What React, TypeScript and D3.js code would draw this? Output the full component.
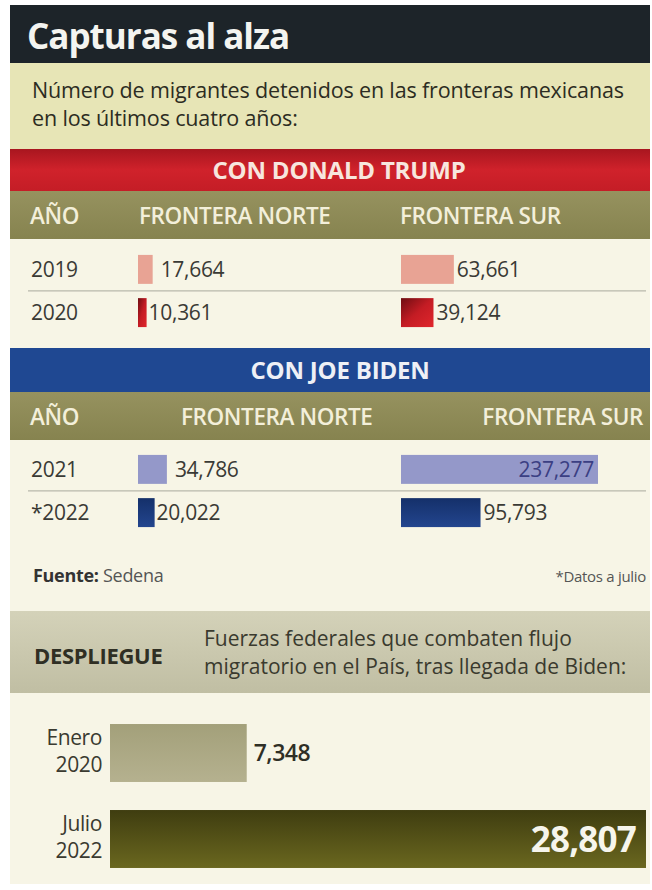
import { useEffect } from 'react';
import * as d3 from 'd3';

const trumpYears = ['2019', '2020'];
const trumpNorte = [17664, 10361];
const trumpSur = [63661, 39124];
const bidenYears = ['2021', '*2022'];
const bidenNorte = [34786, 20022];
const bidenSur = [237277, 95793];
const despliegueLabels = [['Enero', '2020'], ['Julio', '2022']];
const despliegueValues = [7348, 28807];

const FONT = '"Open Sans", "Noto Sans", sans-serif';
const fmt = d3.format(',');

export default function App() {
  useEffect(() => {
    document.body.style.margin = '0';
  }, []);

  const W = 652;
  const L = 10;
  const R = 650;

  // one scale for both border tables
  const x = d3.scaleLinear().domain([0, d3.max(bidenSur) as number]).range([0, 197]);
  const xd = d3.scaleLinear().domain([0, d3.max(despliegueValues) as number]).range([0, 536]);

  const trumpY = d3.scaleBand().domain(trumpYears).range([248, 334]).paddingInner(0.33).paddingOuter(0.16);
  const bidenY = d3.scaleBand().domain(bidenYears).range([448, 534]).paddingInner(0.33).paddingOuter(0.16);
  const despY = d3.scaleBand().domain(despliegueLabels.map((d) => d[1])).range([710, 882]).paddingInner(0.326).paddingOuter(0.163);

  const normX = 138;
  const surX = 401;

  const trumpColors = ['#e8a394', 'url(#gRed)'];
  const bidenColors = ['#9498c9', 'url(#gBlue)'];

  const headerRow = (y: number, biden: boolean) => (
    <g fontSize={22.5} fill="#f3efda" fontFamily={FONT} fontWeight={600} letterSpacing={-0.4}>
      <rect x={L} y={y} width={R - L} height={48} fill="url(#gOlive)" />
      <text x={30} y={y + 33}>AÑO</text>
      <text x={biden ? 181 : 139} y={y + 33}>FRONTERA NORTE</text>
      <text x={biden ? 643 : 400} y={y + 33} textAnchor={biden ? 'end' : 'start'}>FRONTERA SUR</text>
    </g>
  );

  const rows = (
    years: string[],
    norte: number[],
    sur: number[],
    y: d3.ScaleBand<string>,
    colors: string[],
    insideTextColor: string
  ) => (
    <g fontFamily={FONT} fontSize={21} fill="#3a3a35" letterSpacing={-0.3}>
      {years.map((yr, i) => {
        const y0 = y(yr) as number;
        const bh = y.bandwidth();
        const cy = y0 + bh / 2 + 7.5;
        const nw = x(norte[i]);
        const sw = x(sur[i]);
        const inside = sw > 150;
        return (
          <g key={yr}>
            <text x={31} y={cy}>{yr}</text>
            <rect x={normX} y={y0} width={nw} height={bh} fill={colors[i]} />
            <text x={normX + nw + (i === 0 ? 8 : 2)} y={cy}>{fmt(norte[i])}</text>
            <rect x={surX} y={y0} width={sw} height={bh} fill={colors[i]} />
            {inside ? (
              <text x={surX + sw - 4} y={cy} textAnchor="end" fill={insideTextColor}>{fmt(sur[i])}</text>
            ) : (
              <text x={surX + sw + 3} y={cy}>{fmt(sur[i])}</text>
            )}
          </g>
        );
      })}
      <line x1={28} x2={R - 4} y1={(y(years[0]) as number) + y.step() * 0.83} y2={(y(years[0]) as number) + y.step() * 0.83} stroke="#b9b8ab" strokeWidth={1.2} />
    </g>
  );

  return (
    <svg width={W} height={890} style={{ display: 'block', background: '#fff' }}>
      <defs>
        <linearGradient id="gRedBand" x1="0" y1="0" x2="0" y2="1">
          <stop offset="0" stopColor="#a8161f" />
          <stop offset="0.5" stopColor="#d0222b" />
          <stop offset="1" stopColor="#c41d26" />
        </linearGradient>
        <linearGradient id="gOlive" x1="0" y1="0" x2="0" y2="1">
          <stop offset="0" stopColor="#96925f" />
          <stop offset="1" stopColor="#86834f" />
        </linearGradient>
        <linearGradient id="gRed" x1="0" y1="0" x2="1" y2="1">
          <stop offset="0" stopColor="#6e0d12" />
          <stop offset="0.5" stopColor="#c41c24" />
          <stop offset="1" stopColor="#e0262c" />
        </linearGradient>
        <linearGradient id="gBlue" x1="0" y1="0" x2="0" y2="1">
          <stop offset="0" stopColor="#14306a" />
          <stop offset="1" stopColor="#23458e" />
        </linearGradient>
        <linearGradient id="gGrey" x1="0" y1="0" x2="0" y2="1">
          <stop offset="0" stopColor="#d4d2b9" />
          <stop offset="1" stopColor="#c0bea3" />
        </linearGradient>
        <linearGradient id="gDark" x1="0" y1="0" x2="0" y2="1">
          <stop offset="0" stopColor="#3f3d10" />
          <stop offset="1" stopColor="#6a671f" />
        </linearGradient>
        <linearGradient id="gLight" x1="0" y1="0" x2="0" y2="1">
          <stop offset="0" stopColor="#a3a07a" />
          <stop offset="1" stopColor="#b5b18f" />
        </linearGradient>
      </defs>

      {/* body */}
      <rect x={L} y={5} width={R - L} height={879} fill="#f7f5e6" />

      {/* title */}
      <rect x={L} y={5} width={R - L} height={58} fill="#1d2429" />
      <text x={27} y={49} fontSize={35} fontWeight={700} fill="#f4f4f0" fontFamily={FONT} letterSpacing={-1}>Capturas al alza</text>

      {/* subtitle */}
      <rect x={L} y={63} width={R - L} height={86} fill="#e7e5b6" />
      <g fontFamily={FONT} fontSize={21.5} fill="#2c2c22" fontWeight={500} letterSpacing={-0.15}>
        <text x={32} y={98}>Número de migrantes detenidos en las fronteras mexicanas</text>
        <text x={32} y={126}>en los últimos cuatro años:</text>
      </g>

      {/* Trump */}
      <rect x={L} y={149} width={R - L} height={42} fill="url(#gRedBand)" />
      <text x={339} y={179} textAnchor="middle" fontSize={24} fontWeight={700} fill="#f7e6de" fontFamily={FONT} letterSpacing={-0.2}>CON DONALD TRUMP</text>
      {headerRow(191, false)}
      {rows(trumpYears, trumpNorte, trumpSur, trumpY, trumpColors, '#333')}

      {/* Biden */}
      <rect x={L} y={348} width={R - L} height={44} fill="#1f4892" />
      <text x={340} y={379} textAnchor="middle" fontSize={24} fontWeight={700} fill="#eef0f6" fontFamily={FONT} letterSpacing={-0.2}>CON JOE BIDEN</text>
      {headerRow(392, true)}
      {rows(bidenYears, bidenNorte, bidenSur, bidenY, bidenColors, '#3b3f83')}

      {/* source */}
      <text x={33} y={582} fontSize={18} fill="#555" fontFamily={FONT} letterSpacing={-0.3}>
        <tspan fontWeight={700} fill="#333">Fuente:</tspan> Sedena
      </text>
      <text x={646} y={582} textAnchor="end" fontSize={15} fill="#555" fontFamily={FONT} letterSpacing={-0.3}>*Datos a julio</text>

      {/* despliegue */}
      <rect x={L} y={611} width={R - L} height={82} fill="url(#gGrey)" />
      <text x={34} y={664} fontSize={22} fontWeight={700} fill="#2f2f24" fontFamily={FONT} letterSpacing={-0.3}>DESPLIEGUE</text>
      <g fontFamily={FONT} fontSize={21} fill="#3a3a2e" letterSpacing={0}>
        <text x={204} y={646}>Fuerzas federales que combaten flujo</text>
        <text x={204} y={674}>migratorio en el País, tras llegada de Biden:</text>
      </g>

      {despliegueLabels.map((lab, i) => {
        const y0 = despY(lab[1]) as number;
        const bh = despY.bandwidth();
        const w = xd(despliegueValues[i]);
        const last = i === despliegueValues.length - 1;
        return (
          <g key={lab[1]} fontFamily={FONT}>
            <text x={102} y={y0 + 21} textAnchor="end" fontSize={21} fill="#3a3a30" letterSpacing={-0.4}>{lab[0]}</text>
            <text x={102} y={y0 + 48} textAnchor="end" fontSize={21} fill="#3a3a30" letterSpacing={-0.4}>{lab[1]}</text>
            <rect x={110} y={y0} width={w} height={bh} fill={last ? 'url(#gDark)' : 'url(#gLight)'} />
            {last ? (
              <text x={110 + w - 10} y={y0 + bh / 2 + 13} textAnchor="end" fontSize={35} fontWeight={700} fill="#f6f5ec" letterSpacing={-0.8}>{fmt(despliegueValues[i])}</text>
            ) : (
              <text x={110 + w + 7} y={y0 + bh / 2 + 8} fontSize={23} fontWeight={600} fill="#2f2f25" letterSpacing={-0.5}>{fmt(despliegueValues[i])}</text>
            )}
          </g>
        );
      })}
    </svg>
  );
}
